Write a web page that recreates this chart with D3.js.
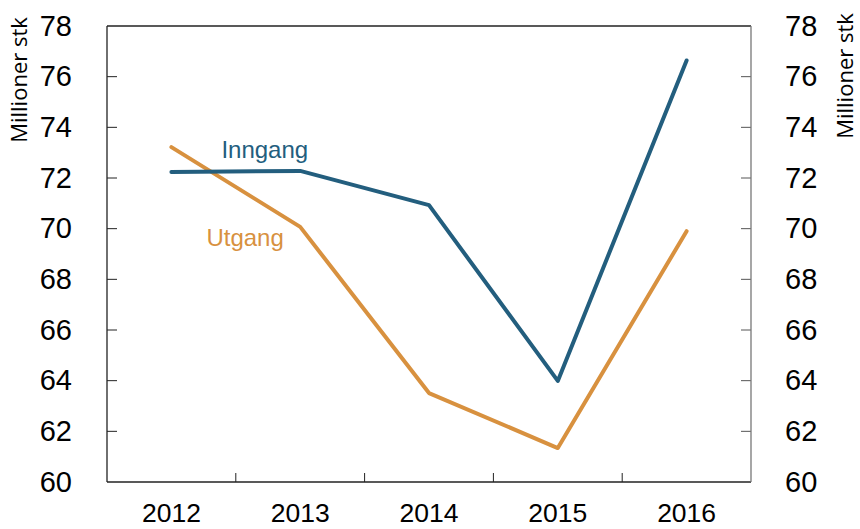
<!DOCTYPE html>
<html>
<head>
<meta charset="utf-8">
<script src="https://cdn.jsdelivr.net/npm/d3@7"></script>
<style>
  body { margin: 0; background: #fff; }
  text { font-family: "Liberation Sans", Arial, sans-serif; }
</style>
</head>
<body>
<div id="chart"></div>
<script>
const years = ["2012", "2013", "2014", "2015", "2016"];
const inngang = [72.24, 72.28, 70.93, 63.99, 76.64];
const utgang = [73.22, 70.07, 63.51, 61.34, 69.9];
const yTicks = [60, 62, 64, 66, 68, 70, 72, 74, 76, 78];
const axisTitle = "Millioner stk";

const width = 860, height = 529;
const margin = { top: 26, right: 109, bottom: 47, left: 107 };
const w = width - margin.left - margin.right;
const h = height - margin.top - margin.bottom;

const blue = "#235e7e";
const orange = "#d8913f";

const svg = d3.select("#chart").append("svg")
  .attr("width", width)
  .attr("height", height);

const g = svg.append("g")
  .attr("transform", `translate(${margin.left},${margin.top})`);

const x = d3.scaleBand().domain(years).range([0, w]).padding(0);
const y = d3.scaleLinear().domain([60, 78]).range([h, 0]);

// y labels on both sides
const left = g.append("g")
  .call(d3.axisLeft(y).tickValues(yTicks).tickSize(0).tickPadding(35));
left.select(".domain").remove();
left.selectAll("text").attr("font-size", 29).attr("fill", "#000");

const right = g.append("g")
  .attr("transform", `translate(${w},0)`)
  .call(d3.axisRight(y).tickValues(yTicks).tickSize(0).tickPadding(34));
right.select(".domain").remove();
right.selectAll("text").attr("font-size", 29).attr("fill", "#000");

// inner tick marks
g.selectAll(".ltick").data(yTicks.slice(1, -1)).enter().append("line")
  .attr("x1", 0).attr("x2", 10)
  .attr("y1", d => y(d)).attr("y2", d => y(d))
  .attr("stroke", "#222").attr("stroke-width", 1);
g.selectAll(".rtick").data(yTicks.slice(1, -1)).enter().append("line")
  .attr("x1", w - 10).attr("x2", w)
  .attr("y1", d => y(d)).attr("y2", d => y(d))
  .attr("stroke", "#555").attr("stroke-width", 1);

// bottom axis: labels centred, ticks at band boundaries
const bottom = g.append("g")
  .attr("transform", `translate(0,${h})`)
  .call(d3.axisBottom(x).tickSize(0).tickPadding(21));
bottom.select(".domain").remove();
bottom.selectAll("text").attr("font-size", 26.5).attr("fill", "#000");

g.selectAll(".xtick").data(years.slice(1)).enter().append("line")
  .attr("x1", d => x(d)).attr("x2", d => x(d))
  .attr("y1", h - 9).attr("y2", h)
  .attr("stroke", "#222").attr("stroke-width", 1);

// frame
g.append("line").attr("x1", 0).attr("x2", w).attr("y1", 0).attr("y2", 0)
  .attr("stroke", "#222").attr("stroke-width", 1.3);
g.append("line").attr("x1", 0).attr("x2", w).attr("y1", h).attr("y2", h)
  .attr("stroke", "#222").attr("stroke-width", 1.3);
g.append("line").attr("x1", 0).attr("x2", 0).attr("y1", 0).attr("y2", h)
  .attr("stroke", "#222").attr("stroke-width", 1.3);
g.append("line").attr("x1", w).attr("x2", w).attr("y1", 0).attr("y2", h)
  .attr("stroke", "#777").attr("stroke-width", 1.3);

// axis titles
svg.append("text")
  .attr("transform", "translate(27,80) rotate(-90)")
  .attr("text-anchor", "middle")
  .attr("font-size", 22)
  .style("font-family", "'Open Sans', sans-serif")
  .text(axisTitle);
svg.append("text")
  .attr("transform", "translate(853,76) rotate(-90)")
  .attr("text-anchor", "middle")
  .attr("font-size", 22)
  .style("font-family", "'Open Sans', sans-serif")
  .text(axisTitle);

// lines
const line = d3.line()
  .x((d, i) => x(years[i]) + x.bandwidth() / 2)
  .y(d => y(d));

g.append("path").datum(utgang)
  .attr("fill", "none").attr("stroke", orange).attr("stroke-width", 4)
  .attr("stroke-linejoin", "round").attr("stroke-linecap", "round")
  .attr("d", line);
g.append("path").datum(inngang)
  .attr("fill", "none").attr("stroke", blue).attr("stroke-width", 4)
  .attr("stroke-linejoin", "round").attr("stroke-linecap", "round")
  .attr("d", line);

// series labels
g.append("text")
  .attr("x", x("2012") + x.bandwidth() / 2 + 50)
  .attr("y", y(72.24) - 14)
  .attr("font-size", 24).attr("fill", blue)
  .text("Inngang");
g.append("text")
  .attr("x", x("2012") + x.bandwidth() / 2 + 35)
  .attr("y", y(70.07) + 19)
  .attr("font-size", 24).attr("fill", orange)
  .text("Utgang");
</script>
</body>
</html>
